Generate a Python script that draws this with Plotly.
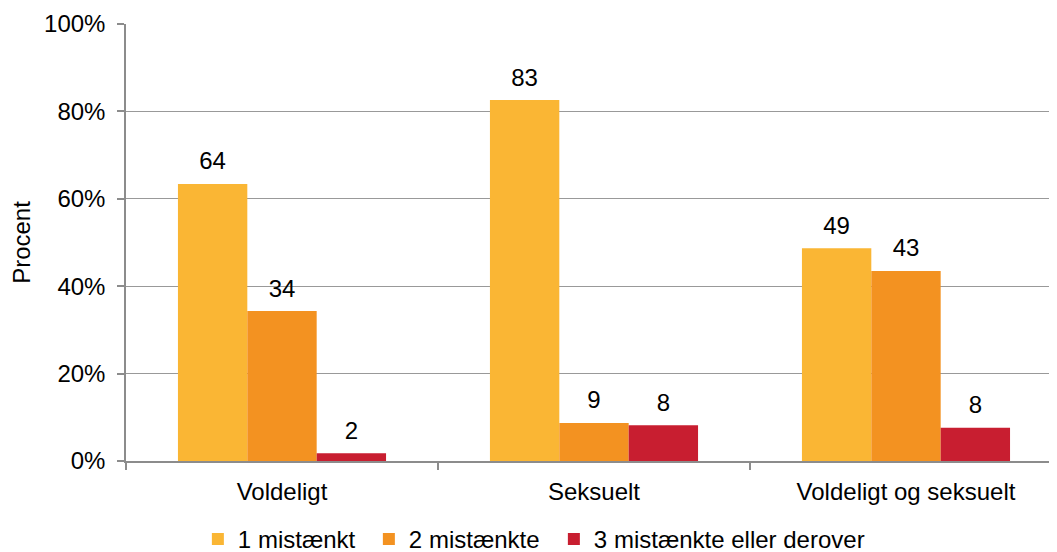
import plotly.graph_objects as go

categories = ["Voldeligt", "Seksuelt", "Voldeligt og seksuelt"]
series_names = ["1 mistænkt", "2 mistænkte", "3 mistænkte eller derover"]
values_1 = [63.4, 82.6, 48.7]
values_2 = [34.3, 8.7, 43.5]
values_3 = [1.8, 8.2, 7.6]
labels_1 = ["64", "83", "49"]
labels_2 = ["34", "9", "43"]
labels_3 = ["2", "8", "8"]
colors = ["#FAB634", "#F39221", "#C81E30"]
legend_widths = [126, 140, 275]
y_ticks = [0, 20, 40, 60, 80, 100]
y_tick_labels = ["0%", "20%", "40%", "60%", "80%", "100%"]

FONT = "Liberation Sans, Arial, sans-serif"
FS = 24

fig = go.Figure()
for i, (name, vals, col, lw) in enumerate(zip(series_names, [values_1, values_2, values_3],
                                              colors, legend_widths)):
    fig.add_trace(go.Bar(
        x=categories, y=vals, name=name, marker=dict(color=col, line=dict(width=0)),
        offsetgroup=str(i), hoverinfo="skip", legendwidth=lw,
    ))
for i, (vals, labs) in enumerate(zip([values_1, values_2, values_3], [labels_1, labels_2, labels_3])):
    fig.add_trace(go.Scatter(
        x=categories, y=vals, text=labs, mode="markers+text", textposition="top center",
        marker=dict(size=12, color="rgba(0,0,0,0)"), offsetgroup=str(i),
        textfont=dict(size=FS, color="#000000", family=FONT),
        showlegend=False, cliponaxis=False, hoverinfo="skip",
    ))

fig.update_layout(
    width=1049, height=544,
    margin=dict(l=118, r=0, t=16, b=91),
    paper_bgcolor="white", plot_bgcolor="white",
    barmode="group", bargap=0.333, bargroupgap=0,
    scattermode="group", scattergap=0.333,
    font=dict(family=FONT, size=FS, color="#000000"),
    showlegend=True,
    legend=dict(orientation="h", x=0.181, xanchor="left", xref="container",
                y=0.023, yanchor="middle", yref="container", font=dict(size=FS),
                traceorder="normal", borderwidth=0),
)
fig.update_xaxes(
    range=[-0.5, 2.484], showline=True, linecolor="#8C8C8C", linewidth=1.5,
    ticks="outside", tickson="boundaries", ticklen=7, tickcolor="#8C8C8C", tickwidth=1.5,
    showgrid=False, tickfont=dict(size=FS), automargin=False, ticklabelstandoff=8,
)
fig.update_yaxes(
    range=[0, 100], tickvals=y_ticks, ticktext=y_tick_labels,
    showline=True, linecolor="#8C8C8C", linewidth=1.5,
    ticks="outside", ticklen=7, tickcolor="#8C8C8C", tickwidth=1.5,
    showgrid=True, gridcolor="#999999", gridwidth=1,
    tickfont=dict(size=FS), ticklabelstandoff=7, automargin=False,
    title=dict(text="Procent", font=dict(size=FS)),
    zeroline=False,
)

fig.write_html("out.html")
